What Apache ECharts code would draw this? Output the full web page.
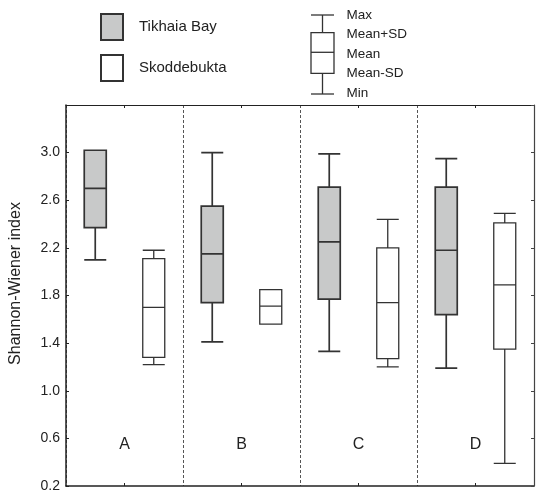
<!DOCTYPE html>
<html>
<head>
<meta charset="utf-8">
<script src="https://cdn.jsdelivr.net/npm/echarts@6/dist/echarts.min.js"></script>
<style>html,body{margin:0;padding:0;background:#fff}#c{width:542px;height:498px}</style>
</head>
<body>
<div id="c"></div>
<script>
// Category labels
const groups = ['A', 'B', 'C', 'D'];
const sites = ['Tikhaia Bay', 'Skoddebukta'];
// Each box: [min, mean-SD, mean, mean+SD, max]
const tikhaia = [
  [2.10, 2.37, 2.70, 3.02, 3.02],
  [1.41, 1.74, 2.15, 2.55, 3.00],
  [1.33, 1.77, 2.25, 2.71, 2.99],
  [1.19, 1.64, 2.18, 2.71, 2.95]
];
const skoddebukta = [
  [1.22, 1.28, 1.70, 2.11, 2.18],
  [1.56, 1.56, 1.71, 1.85, 1.85],
  [1.20, 1.27, 1.74, 2.20, 2.44],
  [0.39, 1.35, 1.89, 2.41, 2.49]
];
const yTicks = { min: 0.2, max: 3.4, step: 0.4 };
const keyLabels = ['Max', 'Mean+SD', 'Mean', 'Mean-SD', 'Min'];

const FONT = 'Liberation Sans, Arial, sans-serif';
const INK = '#222';
const GRAY = '#c8c9c9';

const styles = [
  { color: GRAY, borderColor: '#333', borderWidth: 1.7 },
  { color: '#ffffff', borderColor: '#333', borderWidth: 1.3 }
];

// interleave: one slot per site within each group
const slots = [];
const boxData = [];
groups.forEach((g, i) => {
  [tikhaia[i], skoddebukta[i]].forEach((v, s) => {
    slots.push(g + (s + 1));
    boxData.push({ name: g + (s + 1), value: v, itemStyle: styles[s] });
  });
});

const chart = echarts.init(document.getElementById('c'), null, { renderer: 'canvas' });

// key (legend for box meaning)
const kx = 311, kw = 23, kc = kx + kw / 2;
const ky = [15, 32.7, 52.3, 73.3, 94];
const keyTextY = [15, 34, 54, 73, 93];
const keyGraphic = [
  { type: 'line', shape: { x1: kx, y1: ky[0], x2: kx + kw, y2: ky[0] } },
  { type: 'line', shape: { x1: kc, y1: ky[0], x2: kc, y2: ky[1] } },
  { type: 'rect', shape: { x: kx, y: ky[1], width: kw, height: ky[3] - ky[1] }, style: { fill: '#fff', stroke: '#333', lineWidth: 1.3 } },
  { type: 'line', shape: { x1: kx, y1: ky[2], x2: kx + kw, y2: ky[2] } },
  { type: 'line', shape: { x1: kc, y1: ky[3], x2: kc, y2: ky[4] } },
  { type: 'line', shape: { x1: kx, y1: ky[4], x2: kx + kw, y2: ky[4] } }
].map(g => Object.assign({ style: { stroke: '#333', lineWidth: 1.3 } }, g, { silent: true }));
keyLabels.forEach((t, i) => {
  keyGraphic.push({
    type: 'text', silent: true, x: 346.5, y: keyTextY[i],
    style: { text: t, fill: INK, font: '13.5px ' + FONT, textVerticalAlign: 'middle', textAlign: 'left' }
  });
});

const option = {
  animation: false,
  backgroundColor: '#fff',
  grid: { left: 63, right: 8, top: 105, bottom: 12, show: false },
  legend: {
    data: sites,
    orient: 'vertical', left: 100, top: 13, padding: 0,
    itemWidth: 22, itemHeight: 26, itemGap: 13,
    icon: 'rect', selectedMode: false,
    textStyle: { fontSize: 15, color: INK, fontFamily: FONT, padding: [0, 0, 0, 11] }
  },
  graphic: keyGraphic,
  xAxis: [
    { type: 'category', data: slots, show: false },
    { type: 'category', data: groups, show: false },
    {
      type: 'category', data: groups, position: 'bottom',
      axisLine: { show: true, lineStyle: { color: INK, width: 1.5 } },
      axisTick: { show: true, inside: true, alignWithLabel: true, length: 3, lineStyle: { color: INK } },
      axisLabel: { inside: true, margin: 33, fontSize: 16, color: INK, fontFamily: FONT },
      splitLine: { show: true, interval: 0, lineStyle: { color: '#555', type: [3, 2], width: 1 } }
    },
    {
      type: 'category', data: groups, position: 'top',
      axisLine: { show: true, lineStyle: { color: INK, width: 1.2 } },
      axisTick: { show: true, inside: true, alignWithLabel: true, length: 3, lineStyle: { color: INK } },
      axisLabel: { show: false },
      splitLine: { show: false }
    }
  ],
  yAxis: [
    {
      type: 'value', min: yTicks.min, max: yTicks.max, interval: yTicks.step, position: 'left', z: 3,
      name: 'Shannon-Wiener index', nameLocation: 'middle', nameGap: 42, nameRotate: 90,
      nameTextStyle: { fontSize: 16, color: INK, fontFamily: FONT, padding: [0, 0, 0, 24] },
      axisLine: { show: true, lineStyle: { color: INK, width: 1.5 } },
      axisTick: { show: true, inside: true, length: 3, lineStyle: { color: INK } },
      axisLabel: { margin: 6, fontSize: 14, color: INK, fontFamily: FONT, showMaxLabel: false,
        formatter: v => v.toFixed(1) },
      splitLine: { show: false }
    },
    {
      type: 'value', min: yTicks.min, max: yTicks.max, interval: yTicks.step, position: 'right', z: 3,
      axisLine: { show: true, lineStyle: { color: '#444', width: 1.2 } },
      axisTick: { show: true, inside: true, length: 3, lineStyle: { color: '#444' } },
      axisLabel: { show: false },
      splitLine: { show: false }
    }
  ],
  series: [
    {
      name: 'boxes', type: 'boxplot', xAxisIndex: 0, yAxisIndex: 0,
      boxWidth: [22, 22], silent: true,
      itemStyle: styles[1],
      emphasis: { disabled: true },
      data: boxData
    },
    // legend entries only (no data drawn)
    { name: sites[0], type: 'bar', xAxisIndex: 1, yAxisIndex: 0, data: [], itemStyle: styles[0] },
    { name: sites[1], type: 'bar', xAxisIndex: 1, yAxisIndex: 0, data: [], itemStyle: styles[1] }
  ]
};
chart.setOption(option);
</script>
</body>
</html>
